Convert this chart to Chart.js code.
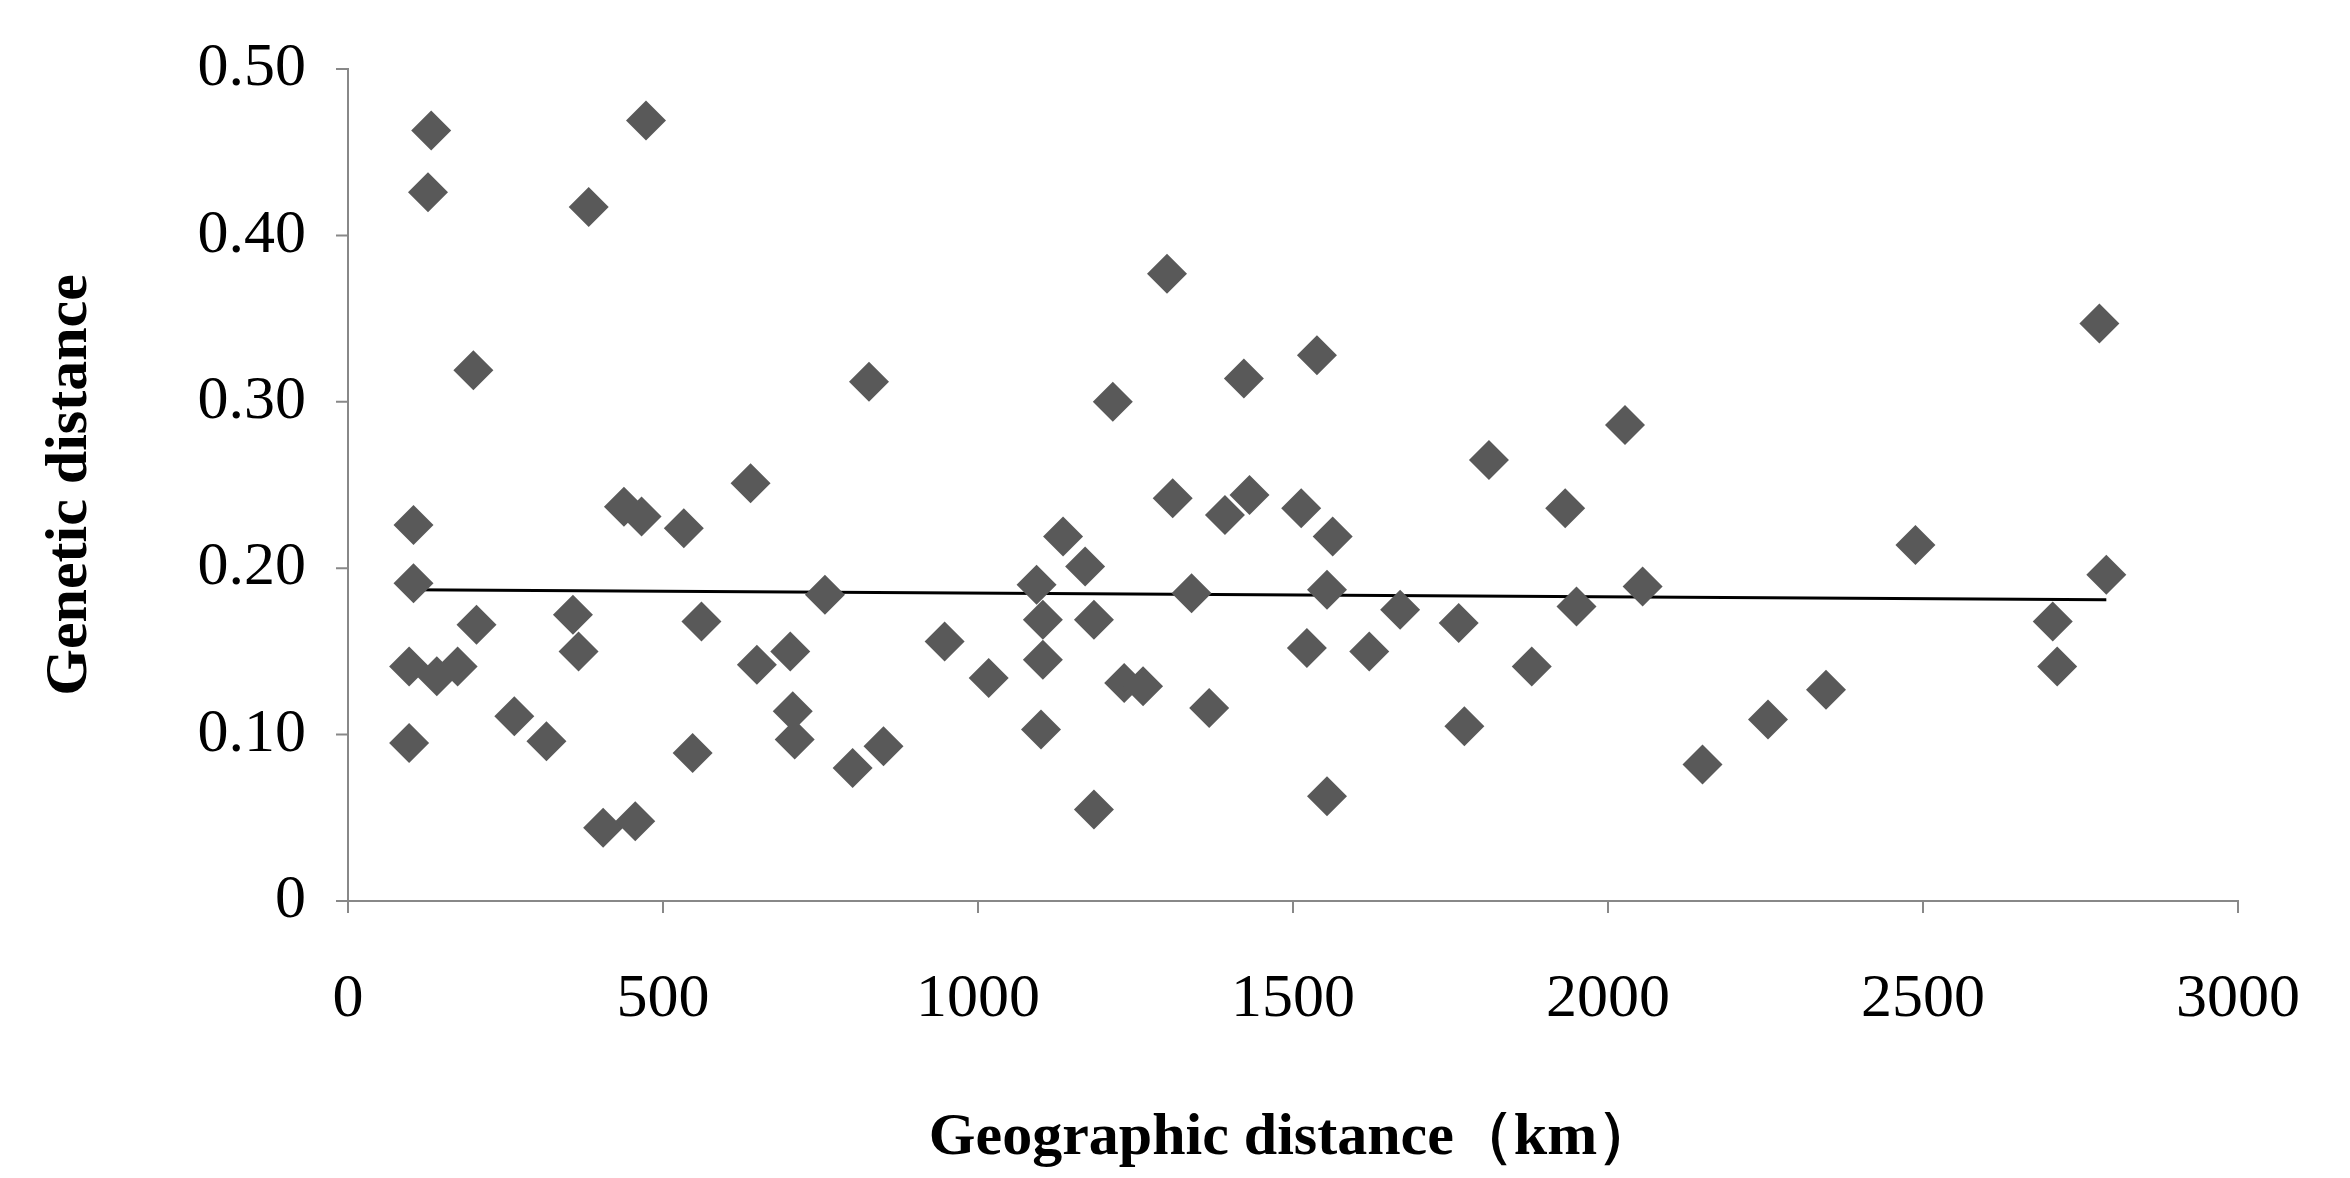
<!DOCTYPE html>
<html>
<head>
<meta charset="utf-8">
<script src="https://cdn.jsdelivr.net/npm/chart.js@4"></script>
<style>
  html, body { margin: 0; padding: 0; background: #fff; }
  #wrap { width: 2350px; height: 1178px; }
</style>
</head>
<body>
<div id="wrap"><canvas id="myChart"></canvas></div>
<script>
// Geographic distance (km) vs genetic distance
const geoDist = [97, 97, 104, 104, 132, 127, 141, 174, 199, 204, 264, 315, 357, 366, 382, 405, 456, 438, 466, 473,
  533, 547, 561, 639, 649, 702, 706, 709, 757, 801, 827, 850, 947, 1017, 1093, 1103, 1103, 1100, 1135, 1170,
  1184, 1184, 1214, 1232, 1262, 1300, 1309, 1339, 1367, 1392, 1422, 1431, 1513, 1522, 1538, 1554, 1563, 1554,
  1621, 1670, 1763, 1772, 1811, 1879, 1932, 1950, 2027, 2055, 2150, 2254, 2346, 2488, 2706, 2713, 2780, 2791];
const genDist = [0.095, 0.141, 0.226, 0.191, 0.463, 0.426, 0.135, 0.141, 0.319, 0.166, 0.111, 0.096, 0.172, 0.150, 0.417, 0.044, 0.048, 0.237, 0.231, 0.469,
  0.224, 0.089, 0.168, 0.251, 0.142, 0.150, 0.114, 0.097, 0.184, 0.080, 0.312, 0.093, 0.156, 0.134, 0.190, 0.169, 0.145, 0.103, 0.219, 0.201,
  0.169, 0.055, 0.300, 0.131, 0.129, 0.377, 0.242, 0.185, 0.116, 0.232, 0.314, 0.244, 0.236, 0.152, 0.328, 0.187, 0.219, 0.063,
  0.150, 0.175, 0.167, 0.105, 0.265, 0.141, 0.236, 0.177, 0.286, 0.189, 0.082, 0.109, 0.127, 0.214, 0.168, 0.141, 0.347, 0.196];
const trendX = [97, 2791];
const trendY = [0.187, 0.181];
const xTicks = [0, 500, 1000, 1500, 2000, 2500, 3000];
const yTicks = [0, 0.1, 0.2, 0.3, 0.4, 0.5];

const font = "'Liberation Serif', 'Times New Roman', serif";

new Chart(document.getElementById("myChart"), {
  type: "scatter",
  data: {
    datasets: [
      {
        data: geoDist.map((x, i) => ({ x: x, y: genDist[i] })),
        pointStyle: "rectRot",
        pointRadius: 20,
        pointHoverRadius: 20,
        backgroundColor: "#595959",
        borderColor: "#595959",
        borderWidth: 0
      },
      {
        type: "line",
        data: trendX.map((x, i) => ({ x: x, y: trendY[i] })),
        borderColor: "#000",
        borderWidth: 3,
        pointRadius: 0,
        fill: false
      }
    ]
  },
  options: {
    responsive: true,
    maintainAspectRatio: false,
    animation: false,
    layout: { padding: { top: 69, right: 60, left: 30, bottom: 0 } },
    plugins: { legend: { display: false }, tooltip: { enabled: false } },
    scales: {
      x: {
        type: "linear",
        min: 0, max: 3000,
        afterBuildTicks: s => { s.ticks = xTicks.map(v => ({ value: v })); },
        afterFit: s => { s.height = 277; },
        grid: { display: false, tickLength: 12, color: "#888" },
        border: { display: true, color: "#888", width: 2 },
        ticks: { font: { family: font, size: 62 }, color: "#000", padding: 50, maxRotation: 0, callback: v => String(v) },
        title: { display: true, text: "Geographic distance（km）", font: { family: font, size: 60, weight: "bold" }, color: "#000", padding: { top: 30 } }
      },
      y: {
        min: 0, max: 0.5,
        afterBuildTicks: s => { s.ticks = yTicks.map(v => ({ value: v })); },
        afterFit: s => { s.width = 318; },
        grid: { display: false, tickLength: 12, color: "#888" },
        border: { display: true, color: "#888", width: 2 },
        ticks: {
          font: { family: font, size: 62 }, color: "#000", padding: 30,
          callback: v => v === 0 ? "0" : v.toFixed(2)
        },
        title: { display: true, text: "Genetic distance", font: { family: font, size: 60, weight: "bold" }, color: "#000", padding: { bottom: 40 } }
      }
    }
  },
  plugins: [{
    id: "axisTicks",
    afterDraw: c => {
      // tick marks outside the axes
      const ctx = c.ctx, xs = c.scales.x, ys = c.scales.y;
      ctx.save();
      ctx.strokeStyle = "#888";
      ctx.lineWidth = 2;
      ctx.beginPath();
      xTicks.forEach(v => { const p = xs.getPixelForValue(v); ctx.moveTo(p, ys.bottom); ctx.lineTo(p, ys.bottom + 12); });
      yTicks.forEach(v => { const p = ys.getPixelForValue(v); ctx.moveTo(xs.left, p); ctx.lineTo(xs.left - 12, p); });
      ctx.stroke();
      ctx.restore();
    }
  }]
});
</script>
</body>
</html>
